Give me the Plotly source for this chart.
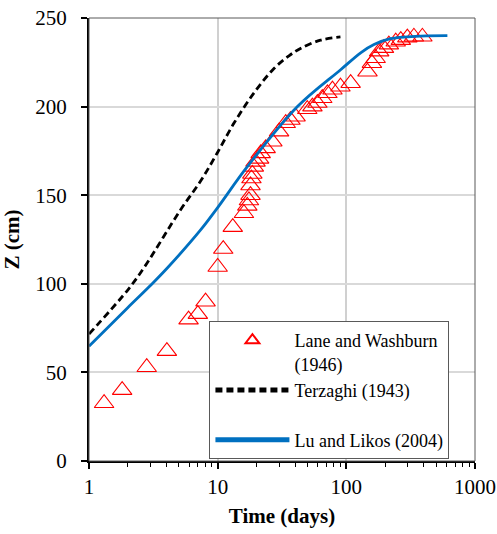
import plotly.graph_objects as go

# Lane and Washburn (1946) measured data
lw_t = [1.31, 1.81, 2.81, 4.03, 5.94, 7.01, 8.05, 10.0, 11.05, 13.1, 16.0, 17.0, 17.5, 18.0, 18.0,
        18.3, 18.6, 19.1, 19.7, 21.0, 21.6, 23.6, 26.6, 30.0, 33.8, 36.8, 40.3, 49.7, 54.5, 59.6,
        65.0, 71.3, 78.0, 90.0, 108.0, 146.0, 158.0, 169.0, 180.0, 196.0, 214.0, 242.0, 265.0,
        298.0, 335.0, 390.0]
lw_z = [32.6, 40.0, 52.9, 62.0, 79.8, 82.9, 89.9, 109.5, 119.6, 132.0, 139.8, 144.0, 147.0, 150.0, 155.5,
        159.4, 162.0, 166.0, 168.8, 170.5, 173.6, 176.4, 180.2, 185.9, 190.6, 192.4, 194.3, 198.5, 200.0, 202.0,
        204.7, 207.5, 209.5, 211.2, 213.2, 219.7, 224.5, 227.3, 231.0, 233.0, 235.0, 236.6, 237.5,
        238.9, 239.4, 239.4]

# Terzaghi (1943)
tz_t = [1.0, 2.0, 2.67, 5.14, 7.37, 9.9, 13.4, 19.1, 27.4, 36.0, 44.0, 63.0, 90.0]
tz_z = [71.6, 96.5, 109.0, 141.7, 158.0, 173.7, 190.7, 207.6, 221.5, 228.8, 232.8, 237.5, 239.3]

# Lu and Likos (2004)
ll_t = [1.0, 2.0, 3.0, 4.06, 7.37, 9.9, 17.0, 41.7, 90.3, 130.0, 164.0, 220.0, 298.0, 420.0, 610.0]
ll_z = [64.8, 86.5, 99.0, 108.9, 130.4, 142.6, 166.1, 200.0, 220.8, 230.5, 235.0, 238.3, 239.4, 239.9, 240.0]

x_tickvals = [1, 10, 100, 1000]
x_ticktext = ["1", "10", "100", "1000"]
y_tickvals = [0, 50, 100, 150, 200, 250]

FONT = "Times New Roman, Liberation Serif, DejaVu Serif, serif"

fig = go.Figure()
fig.add_trace(go.Scatter(
    x=lw_t, y=lw_z, mode="markers", name="Lane and Washburn<br>(1946)",
    marker=dict(symbol="triangle-up-open", size=17, color="#FF0000", line=dict(width=1.1, color="#FF0000")),
))
fig.add_trace(go.Scatter(
    x=tz_t, y=tz_z, mode="lines", name="Terzaghi (1943)<br> ",
    line=dict(color="black", width=2.8, dash="7px,4px", shape="spline", smoothing=1),
))
fig.add_trace(go.Scatter(
    x=ll_t, y=ll_z, mode="lines", name="Lu and Likos (2004)",
    line=dict(color="#0070C0", width=2.8, shape="spline", smoothing=1),
))

minor_vals = [m * 10 ** k for k in range(3) for m in range(2, 10)]

fig.update_layout(
    width=497, height=534,
    margin=dict(l=89, r=22, t=18, b=73, autoexpand=False),
    paper_bgcolor="white", plot_bgcolor="white",
    font=dict(family=FONT, size=21, color="black"),
    showlegend=True,
    legend=dict(
        x=0.312, y=0.316, xanchor="left", yanchor="top",
        bgcolor="white", bordercolor="#595959", borderwidth=1,
        font=dict(family=FONT, size=18, color="black"),
        valign="top", itemsizing="constant", itemwidth=74,
        tracegroupgap=0,
    ),
    xaxis=dict(
        type="log", range=[0, 3],
        tickvals=x_tickvals, ticktext=x_ticktext,
        ticks="outside", ticklen=6, tickwidth=1.5, tickcolor="black",
        showline=True, linecolor="black", linewidth=2,
        showgrid=True, gridcolor="#D0D0D0", gridwidth=2,
        zeroline=False,
        minor=dict(tickvals=minor_vals, ticks="outside", ticklen=4, tickwidth=1.2,
                   tickcolor="black", showgrid=False),
        title=dict(text="<b>Time (days)</b>", font=dict(family=FONT, size=21), standoff=10),
        tickfont=dict(family=FONT, size=21),
        ticklabeloverflow="allow",
    ),
    yaxis=dict(
        range=[0, 250],
        tickvals=y_tickvals,
        ticks="outside", ticklen=6, tickwidth=1.5, tickcolor="black",
        showline=True, linecolor="black", linewidth=2,
        showgrid=True, gridcolor="#D9D9D9", gridwidth=2,
        zeroline=False,
        title=dict(text="<b>Z (cm)</b>", font=dict(family=FONT, size=21), standoff=12),
        tickfont=dict(family=FONT, size=21),
        ticklabelstandoff=10,
        ticklabeloverflow="allow",
    ),
    shapes=[dict(type="rect", xref="paper", yref="paper", x0=0, y0=0, x1=1, y1=1,
                 line=dict(color="#595959", width=1), layer="above")],
)

# remove the default 8px page margin so the figure fills the window exactly
fig.write_html("out.html", config={"displayModeBar": False},
               post_script="document.body.style.margin='0px';")
